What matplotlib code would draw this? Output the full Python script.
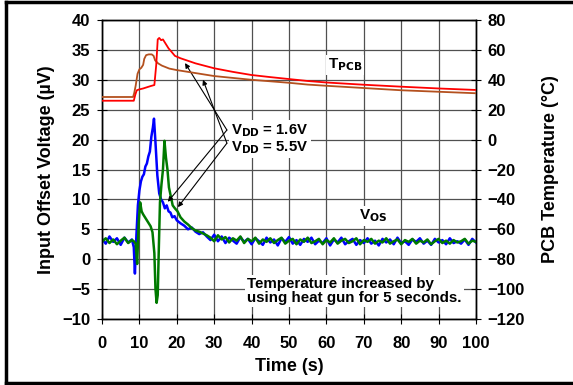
import numpy as np
import matplotlib
matplotlib.use("Agg")
import matplotlib.pyplot as plt
from matplotlib.lines import Line2D

plt.rcParams['font.family'] = ['Liberation Sans', 'DejaVu Sans']
plt.rcParams['font.weight'] = 'bold'
plt.rcParams['mathtext.default'] = 'regular'

# ---- data ----
x_ticks = [0, 10, 20, 30, 40, 50, 60, 70, 80, 90, 100]
vos_ticks = [-10, -5, 0, 5, 10, 15, 20, 25, 30, 35, 40]
temp_ticks = [-120, -100, -80, -60, -40, -20, 0, 20, 40, 60, 80]

# VOS, VDD = 1.6V (blue)
blue_t = [0, 1, 2, 3, 4, 5, 6, 7, 8, 8.5, 8.8, 9.2, 9.6, 10.0, 10.4, 10.8, 11.2, 11.6,
          12.0, 12.4, 12.8, 13.2, 13.6, 13.9, 14.3, 14.8, 15.3, 15.8, 16.3, 16.8, 17.3,
          17.8, 18.3, 18.8, 19.4, 20, 21, 22, 23, 24, 25, 26, 27, 28] + list(range(29, 101))
blue_v = [3.4, 2.6, 3.8, 2.9, 3.5, 2.4, 3.6, 2.8, 3.3, 2.0, -2.4, 4.0, 9.0, 11.5, 13.0, 13.8,
          14.2, 15.5, 16.0, 17.2, 18.0, 20.5, 22.0, 23.5, 19.5, 14.0, 11.0, 10.0, 9.5, 8.5,
          9.0, 8.0, 7.8, 7.0, 7.2, 6.5, 6.0, 5.6, 5.0, 5.3, 4.6, 4.2, 4.5, 3.8,
          3.2, 4.1, 3.0, 3.8, 2.7, 3.6, 3.1, 2.6, 3.7, 2.9, 3.4, 2.5, 3.5, 3.0, 2.4, 3.6,
          2.8, 3.3, 2.3, 3.5, 2.9, 3.7, 2.6, 3.2, 2.4, 3.4, 2.9, 3.6, 2.5, 3.1, 2.7, 3.5,
          2.3, 3.3, 2.8, 3.6, 2.5, 3.0, 3.4, 2.4, 3.2, 2.7, 3.5, 2.6, 3.1, 2.3, 3.4, 2.8,
          3.3, 2.5, 3.6, 2.7, 3.0, 2.4, 3.3, 2.9, 3.5, 2.6, 3.1, 2.4, 3.4, 2.8, 3.2, 2.5,
          3.5, 2.7, 3.0, 2.6, 3.3, 2.4, 3.4, 2.8]

# VOS, VDD = 5.5V (green)
green_t = [0, 1, 2, 3, 4, 5, 6, 7, 8, 8.5, 9.0, 9.4, 9.8, 10.2, 10.6, 11.0, 11.5, 12.0,
           12.5, 13.0, 13.5, 14.0, 14.3, 14.6, 14.9, 15.2, 15.5, 15.9, 16.3, 16.7, 17.1,
           17.5, 17.9, 18.4, 18.9, 19.5, 20.2, 21, 22, 23, 24, 25, 26, 27, 28] + list(range(29, 101))
green_v = [2.9, 3.5, 2.7, 3.3, 2.5, 3.1, 3.6, 2.7, 3.2, 3.0, 2.6, -0.8, 6.0, 9.5, 8.0, 7.5,
           7.0, 6.5, 6.0, 5.5, 4.5, 1.0, -5.0, -7.3, -6.0, 2.0, 9.5, 12.5, 15.0, 19.8, 17.0,
           15.0, 12.0, 10.5, 9.0, 8.5, 8.0, 7.0, 6.3, 5.8, 5.2, 4.8, 4.6, 4.3, 4.0,
           3.6, 3.0, 4.0, 3.3, 3.7, 2.8, 3.5, 3.1, 3.8, 2.7, 3.4, 3.0, 3.6, 2.6, 3.3, 2.9,
           3.5, 2.7, 3.2, 3.6, 2.6, 3.1, 3.4, 2.5, 3.3, 2.9, 3.6, 2.7, 3.0, 3.4, 2.5, 3.2,
           2.8, 3.5, 2.6, 3.1, 3.4, 2.7, 3.0, 3.5, 2.5, 3.2, 2.9, 3.4, 2.6, 3.1, 2.8, 3.5,
           2.6, 3.0, 3.3, 2.5, 3.2, 2.9, 3.4, 2.6, 3.1, 2.8, 3.3, 2.5, 3.0, 3.4, 2.7, 3.1,
           2.6, 3.2, 2.8, 3.0, 3.4, 2.6, 3.1, 2.9]

# T_PCB, VDD = 1.6V (red)
red_t = [0, 8.5, 8.9, 9.3, 10, 11, 12, 13, 14, 14.5, 14.9, 15.3, 15.8, 16.3, 16.8, 17.3,
         17.8, 18.5, 19.5, 21, 25, 30, 35, 40, 45, 50, 55, 60, 70, 80, 90, 100]
red_T = [26, 26, 30, 33, 33.6, 34.2, 35, 35.8, 36.5, 50, 67, 68, 66.5, 67, 65, 63, 61,
         59, 56, 54.4, 51, 47.7, 45.3, 43.2, 41.8, 40.5, 39.2, 38.2, 36.7, 35.4, 34.2, 33.2]

# T_PCB, VDD = 5.5V (brown)
brown_t = [0, 8.3, 8.6, 9.0, 9.5, 10.0, 10.5, 11.0, 11.3, 11.8, 12.5, 13.3, 13.8, 14.2,
           15, 16, 17, 18, 20, 25, 30, 40, 50, 55, 60, 70, 80, 90, 100]
brown_T = [28.5, 28.5, 31, 36, 44, 47, 48, 50, 54, 56.5, 57, 57, 56, 53, 51, 49.5, 48.5,
           47.5, 46.5, 44.5, 42.5, 40, 38, 36.8, 36, 34.5, 33, 32, 31]

# ---- figure ----
fig = plt.figure(figsize=(5.73, 3.85), dpi=100)
ax = fig.add_axes([102 / 573, 1 - 319 / 385, (476 - 102) / 573, (319 - 20) / 385])
ax2 = ax.twinx()

ax.set_xlim(0, 100)
ax.set_ylim(-10, 40)
ax2.set_ylim(-120, 80)

ax.set_xticks(x_ticks)
ax.set_yticks(vos_ticks)
ax2.set_yticks(temp_ticks)
ax.grid(True, color='#505050', linewidth=0.9)
ax.set_axisbelow(True)

for a in (ax, ax2):
    a.tick_params(direction='inout', length=7, width=0.8, labelsize=12, pad=5)
    for s in a.spines.values():
        s.set_linewidth(1.0)
ax.tick_params(axis='x', pad=9)

ax.plot(blue_t, blue_v, color='#0000FF', linewidth=1.8, zorder=3)
ax.plot(green_t, green_v, color='#007A00', linewidth=1.8, zorder=4)
ax2.plot(brown_t, brown_T, color='#B4501E', linewidth=1.3, zorder=3)
ax2.plot(red_t, red_T, color='#FF0000', linewidth=1.3, zorder=4)

ax.set_xlabel('Time (s)', fontsize=13, fontweight='bold', labelpad=5)
ax.set_ylabel('Input Offset Voltage (µV)', fontsize=13, fontweight='bold', labelpad=5)
ax2.set_ylabel('PCB Temperature (°C)', fontsize=13, fontweight='bold', labelpad=12,
               rotation=90)

bb = dict(facecolor='white', edgecolor='none', pad=1.5)
ax2.text(65, 50, r'T$_{\mathbf{PCB}}$', fontsize=11, fontweight='bold', ha='center',
         va='center', bbox=bb, zorder=6)
ax.text(72.5, 7.2, r'V$_{\mathbf{OS}}$', fontsize=11, fontweight='bold', ha='center',
        va='center', bbox=bb, zorder=6)
ax.text(34.6, 21.5, r'V$_{\mathbf{DD}}$ = 1.6V', fontsize=10.7, fontweight='bold',
        ha='left', va='center', bbox=bb, zorder=6)
ax.text(34.6, 18.6, r'V$_{\mathbf{DD}}$ = 5.5V', fontsize=10.7, fontweight='bold',
        ha='left', va='center', bbox=bb, zorder=6)
ax.text(38.8, -5.3, 'Temperature increased by\nusing heat gun for 5 seconds.',
        fontsize=10.9, fontweight='bold', ha='left', va='center', linespacing=1.0,
        bbox=bb, zorder=6)

# arrows from the ">" vertices
ap = dict(arrowstyle='-|>', color='black', linewidth=0.8, mutation_scale=7,
          shrinkA=0, shrinkB=0)
v1 = (33.4, 21.6)
v2 = (33.4, 19.4)
ax.annotate('', xy=(22.2, 32.8), xytext=v1, arrowprops=ap, zorder=7)
ax.annotate('', xy=(17.6, 9.6), xytext=v1, arrowprops=ap, zorder=7)
ax.annotate('', xy=(27.0, 30.0), xytext=v2, arrowprops=ap, zorder=7)
ax.annotate('', xy=(20.3, 8.7), xytext=v2, arrowprops=ap, zorder=7)

# figure frame (left, top, bottom)
for xs, ys in [([6 / 573, 6 / 573], [1 - 2 / 385, 1 - 383 / 385]),
               ([6 / 573, 1.0], [1 - 2 / 385, 1 - 2 / 385]),
               ([6 / 573, 1.0], [1 - 383 / 385, 1 - 383 / 385])]:
    fig.add_artist(Line2D(xs, ys, color='black', linewidth=2.5, transform=fig.transFigure))

fig.savefig('out.png', dpi=100)
